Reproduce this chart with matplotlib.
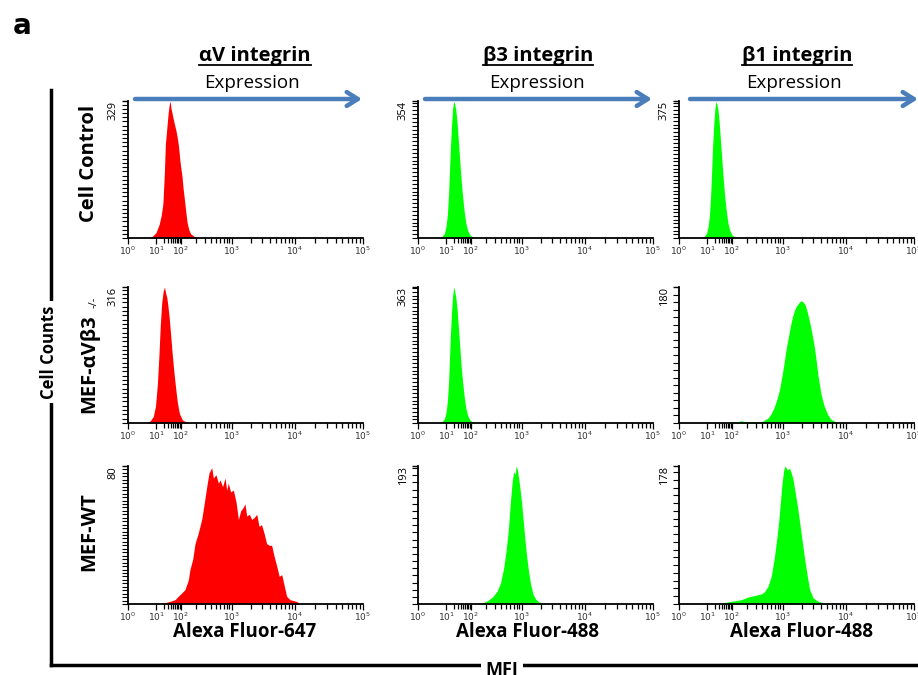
import numpy as np
import matplotlib
matplotlib.use('Agg')
import matplotlib.pyplot as plt
from matplotlib.ticker import FixedLocator, MultipleLocator
from matplotlib.lines import Line2D
from matplotlib.patches import FancyArrowPatch

W, H = 918, 675
DPI = 100
plt.rcParams['font.family'] = ['Open Sans', 'DejaVu Sans']

red = '#FF0000'
green = '#00FF00'
arrow_blue = '#4A7EBB'

# x axis: channel scale (0-1024) with decade labels as drawn by the cytometer software
decade_labels = ['$10^{0}$', '$10^{1}$', '$10^{2}$', '$10^{3}$', '$10^{4}$', '$10^{5}$']
decade_channels = [0, 123, 230, 451, 727, 1024]

column_titles = ['αV integrin', 'β3 integrin', 'β1 integrin']
fluor_labels = ['Alexa Fluor-647', 'Alexa Fluor-488', 'Alexa Fluor-488']
row_labels = ['Cell Control', 'MEF-αVβ3', 'MEF-WT']

# histogram outlines (channel, cell count)
ctrl_av_ch = [94, 108, 122, 136, 145, 152, 158, 163, 167, 171, 175, 179, 184, 187, 192, 197, 203, 209, 214, 219, 223, 227, 231, 235, 240, 246, 252, 258, 265, 273, 288, 306]
ctrl_av_n = [0, 5, 13, 33, 55, 82, 150, 227, 250, 276, 300, 318, 329, 312, 300, 286, 272, 258, 243, 225, 204, 182, 165, 150, 120, 92, 62, 36, 20, 10, 4, 0]

ctrl_b3_ch = [90, 105, 115, 122, 128, 133, 137, 141, 146, 151, 156, 160, 165, 170, 176, 182, 188, 194, 201, 208, 216, 226, 240, 252]
ctrl_b3_n = [0, 4, 12, 30, 60, 110, 170, 230, 290, 335, 354, 346, 330, 300, 250, 200, 150, 110, 70, 40, 20, 8, 2, 0]

ctrl_b1_ch = [95, 110, 120, 127, 133, 138, 142, 146, 151, 156, 161, 165, 170, 175, 181, 187, 193, 199, 206, 213, 221, 231, 245, 257]
ctrl_b1_n = [0, 4, 13, 32, 64, 118, 180, 245, 305, 352, 375, 366, 350, 318, 265, 212, 160, 115, 74, 42, 21, 8, 2, 0]

ko_av_ch = [82, 97, 110, 120, 128, 135, 141, 147, 153, 159, 164, 169, 174, 180, 186, 192, 199, 207, 215, 224, 237, 254, 270]
ko_av_n = [0, 5, 15, 40, 90, 160, 230, 280, 305, 316, 302, 292, 272, 242, 204, 165, 124, 84, 48, 22, 7, 2, 0]

ko_b3_ch = [90, 105, 115, 122, 128, 133, 137, 141, 146, 151, 156, 160, 165, 170, 176, 182, 188, 194, 201, 208, 216, 226, 240, 252]
ko_b3_n = [0, 4, 11, 28, 58, 105, 168, 232, 295, 340, 363, 352, 334, 305, 256, 205, 152, 112, 72, 41, 21, 8, 2, 0]

ko_b1_ch = [213, 230, 250, 270, 300, 327, 345, 362, 386, 401, 415, 428, 437, 445, 453, 460, 467, 474, 481, 488, 495, 503, 512, 522, 532, 541, 550, 558, 566, 574, 582, 590, 598, 606, 619, 633, 648, 662, 691]
ko_b1_n = [0, 2, 1, 3, 1, 2, 1, 2, 6, 12, 21, 33, 43, 56, 70, 84, 98, 110, 121, 132, 141, 149, 155, 159, 162, 160, 156, 148, 138, 127, 114, 100, 82, 62, 38, 22, 11, 5, 0]

wt_av_ch = [154, 183, 205, 219, 234, 248, 263, 270, 282, 292, 306, 321, 333, 343, 353, 365, 372, 383, 394, 401, 412, 423, 430, 437, 447, 459, 471, 481, 491, 502, 510, 517, 529, 539, 549, 561, 571, 582, 593, 604, 616, 626, 636, 648, 659, 670, 680, 691, 706, 735, 749]
wt_av_n = [0.6, 1.5, 2.5, 4.5, 6.4, 8.3, 14, 20, 26, 35, 41, 49, 59, 68, 76, 79, 73, 75, 70, 72, 68, 73, 66, 70, 65, 66, 59, 49, 54, 56, 58, 51, 52, 49, 50, 52, 45, 46, 41, 35, 34, 34, 28, 22, 16, 17, 11, 4.5, 2.5, 1.5, 0]

wt_b3_ch = [265, 285, 305, 325, 345, 360, 373, 384, 394, 402, 410, 417, 423, 428, 433, 439, 445, 452, 459, 466, 474, 482, 491, 501, 512, 526, 545, 565]
wt_b3_n = [0, 2, 5, 10, 18, 30, 50, 75, 105, 140, 170, 185, 181, 193, 188, 175, 160, 140, 115, 90, 65, 45, 27, 14, 7, 3, 1, 0]

wt_b1_ch = [184, 228, 272, 301, 330, 359, 373, 388, 402, 414, 424, 434, 443, 449, 457, 463, 472, 482, 489, 497, 504, 516, 526, 536, 548, 559, 569, 584, 606, 635, 652]
wt_b1_n = [1.3, 3.4, 5.6, 9, 11, 13, 16, 23, 36, 57, 79, 105, 135, 156, 174, 178, 173, 175, 169, 161, 148, 126, 105, 83, 57, 36, 19, 8, 3.4, 1.3, 0]

panels = [
    [(ctrl_av_ch, ctrl_av_n, 329, 10, red), (ctrl_b3_ch, ctrl_b3_n, 354, 10, green), (ctrl_b1_ch, ctrl_b1_n, 375, 10, green)],
    [(ko_av_ch, ko_av_n, 316, 10, red), (ko_b3_ch, ko_b3_n, 363, 10, green), (ko_b1_ch, ko_b1_n, 180, 10, green)],
    [(wt_av_ch, wt_av_n, 80, 2, red), (wt_b3_ch, wt_b3_n, 193, 10, green), (wt_b1_ch, wt_b1_n, 178, 10, green)],
]

# layout in pixels
col_left = [128, 418, 679]
ax_w = 235
row_top = [101, 287, 466]
row_bot = [238, 423, 604]


def fx(x):
    return x / W


def fy(y):
    return 1 - y / H


# minor tick channels: log spacing inside each labelled decade
minor_ch = []
for d in range(1, 5):
    for k in range(2, 10):
        minor_ch.append(np.interp(d + np.log10(k), range(6), decade_channels))

fig = plt.figure(figsize=(W / DPI, H / DPI), dpi=DPI)

for r in range(3):
    for c in range(3):
        ch, n, ymax, ystep, color = panels[r][c]
        ax = fig.add_axes([fx(col_left[c]), fy(row_bot[r]), ax_w / W, (row_bot[r] - row_top[r]) / H])
        ax.fill_between(ch, n, color=color, lw=0)
        ax.set_xlim(0, 1024)
        ax.set_ylim(0, ymax)
        ax.spines['top'].set_visible(False)
        ax.spines['right'].set_visible(False)
        ax.spines['left'].set_linewidth(1.3)
        ax.spines['bottom'].set_linewidth(1.3)
        ax.set_xticks(decade_channels, labels=decade_labels)
        ax.xaxis.set_minor_locator(FixedLocator(minor_ch))
        ax.tick_params(axis='x', which='major', length=4, width=0.9, labelsize=6.5,
                       labelcolor='#333333', pad=1)
        ax.tick_params(axis='x', which='minor', length=3.5, width=0.9)
        ax.set_yticks([ymax], labels=[str(ymax)])
        ax.yaxis.set_minor_locator(MultipleLocator(ystep))
        ax.tick_params(axis='y', which='major', length=4.5, width=1.0, labelsize=8,
                       labelrotation=90, pad=2)
        ax.tick_params(axis='y', which='minor', length=4, width=0.8)
        for lab in ax.get_yticklabels():
            lab.set_va('top')
        ax.patch.set_alpha(0)

# column titles, arrows and x labels
title_x = [255, 538, 797]
expr_x = [252, 537, 794]
fluor_x = [245, 528, 801]
titles = []
for c in range(3):
    t = fig.text(fx(title_x[c]), fy(56), column_titles[c], ha='center', va='center',
                 fontsize=14.5, fontweight='bold')
    titles.append(t)
    fig.text(fx(expr_x[c]), fy(83), 'Expression', ha='center', va='center', fontsize=13.5)
    fig.text(fx(fluor_x[c]), fy(632), fluor_labels[c], ha='center', va='center',
             fontsize=13.5, fontweight='bold')

arrow_x = [(135, 362), (425, 652), (690, 918)]
for x0, x1 in arrow_x:
    fig.add_artist(FancyArrowPatch(
        (fx(x0), fy(99)), (fx(x1), fy(99)), transform=fig.transFigure,
        arrowstyle='->,head_length=8,head_width=5', color=arrow_blue, lw=3.2,
        shrinkA=0, shrinkB=0))

# row labels
row_y = [163, 364, 532]
for r in range(3):
    fig.text(fx(89), fy(row_y[r]), row_labels[r], rotation=90, ha='center', va='center',
             fontsize=14.5, fontweight='bold')
fig.text(fx(94), fy(302), '-/-', rotation=90, ha='center', va='center', fontsize=8)

# outer bracket
fig.add_artist(Line2D([fx(51), fx(51)], [fy(90), fy(665)], color='black', lw=2.5))
fig.add_artist(Line2D([fx(51), fx(918)], [fy(665), fy(665)], color='black', lw=2.5))
fig.text(fx(49), fy(352), 'Cell Counts', rotation=90, ha='center', va='center', fontsize=12,
         fontweight='bold', bbox=dict(facecolor='white', edgecolor='none', pad=3))
fig.text(fx(502), fy(670), 'MFI', ha='center', va='center', fontsize=13, fontweight='bold',
         bbox=dict(facecolor='white', edgecolor='none', pad=3))

fig.text(fx(22), fy(26), 'a', ha='center', va='center', fontsize=20, fontweight='bold',
         family='DejaVu Sans')

# underline the column titles
fig.canvas.draw()
renderer = fig.canvas.get_renderer()
for t in titles:
    bb = t.get_window_extent(renderer)
    yline = bb.y0 + 1
    fig.add_artist(Line2D([bb.x0 / W, bb.x1 / W], [yline / H, yline / H], color='black', lw=1.3))

fig.savefig('out.png', dpi=DPI, facecolor='white')
